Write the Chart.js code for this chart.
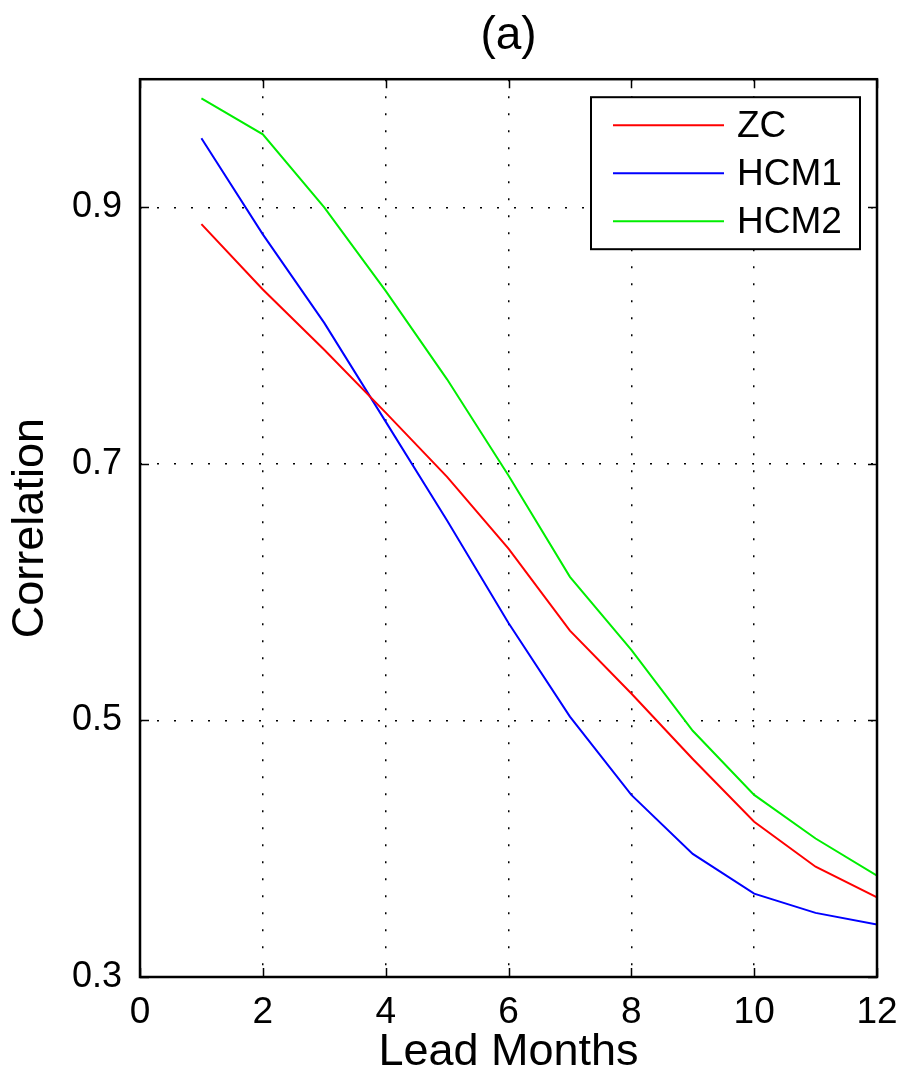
<!DOCTYPE html>
<html>
<head>
<meta charset="utf-8">
<script src="https://cdn.jsdelivr.net/npm/chart.js@4/dist/chart.umd.min.js"></script>
<style>
  html, body { margin: 0; padding: 0; background: #fff; }
  #wrap { width: 900px; height: 1080px; position: relative; }
</style>
</head>
<body>
<div id="wrap"><canvas id="chart-lead"></canvas></div>
<script>
  // data
  const leadMonths = [1, 2, 3, 4, 5, 6, 7, 8, 9, 10, 11, 12];
  const zc   = [0.887, 0.836, 0.789, 0.740, 0.690, 0.634, 0.570, 0.521, 0.470, 0.421, 0.386, 0.362];
  const hcm1 = [0.954, 0.879, 0.810, 0.733, 0.656, 0.576, 0.503, 0.442, 0.396, 0.365, 0.350, 0.341];
  const hcm2 = [0.985, 0.957, 0.900, 0.835, 0.766, 0.691, 0.612, 0.555, 0.492, 0.442, 0.408, 0.379];
  const seriesNames = ["ZC", "HCM1", "HCM2"];
  const xTicks = [0, 2, 4, 6, 8, 10, 12];
  const yTicks = [0.3, 0.5, 0.7, 0.9];

  const FONT = "'Liberation Sans', Arial, Helvetica, sans-serif";

  const toPoints = (vals) => vals.map((v, i) => ({ x: leadMonths[i], y: v }));

  function makeSet(label, vals, color) {
    return {
      label: label,
      data: toPoints(vals),
      borderColor: color,
      backgroundColor: color,
      borderWidth: 2,
      pointRadius: 0,
      tension: 0,
      fill: false,
    };
  }

  // axes box + inward tick marks (matlab style)
  const boxPlugin = {
    id: "box",
    afterDatasetsDraw(chart) {
      const { ctx, chartArea: a, scales } = chart;
      ctx.save();
      ctx.strokeStyle = "#000";
      ctx.lineWidth = 1.5;
      const len = 9;
      xTicks.forEach((t) => {
        const px = Math.round(scales.x.getPixelForValue(t)) + 0.5;
        ctx.beginPath();
        ctx.moveTo(px, a.bottom); ctx.lineTo(px, a.bottom - len);
        ctx.moveTo(px, a.top); ctx.lineTo(px, a.top + len);
        ctx.stroke();
      });
      yTicks.forEach((t) => {
        const py = Math.round(scales.y.getPixelForValue(t)) + 0.5;
        ctx.beginPath();
        ctx.moveTo(a.left, py); ctx.lineTo(a.left + len, py);
        ctx.moveTo(a.right, py); ctx.lineTo(a.right - len, py);
        ctx.stroke();
      });
      ctx.lineWidth = 2.5;
      ctx.strokeRect(a.left, a.top, a.right - a.left, a.bottom - a.top);
      ctx.restore();
    },
  };

  // boxed legend in the top-right corner
  const legendBoxPlugin = {
    id: "legendBox",
    afterDraw(chart) {
      const { ctx, chartArea: a } = chart;
      const w = 269, h = 152;
      const x0 = a.right - 17 - w, y0 = a.top + 18;
      ctx.save();
      ctx.fillStyle = "#fff";
      ctx.fillRect(x0, y0, w, h);
      ctx.strokeStyle = "#000";
      ctx.lineWidth = 2;
      ctx.strokeRect(x0, y0, w, h);
      ctx.font = "37px " + FONT;
      ctx.textBaseline = "middle";
      chart.data.datasets.forEach((ds, i) => {
        const y = y0 + 28 + i * 48;
        ctx.strokeStyle = ds.borderColor;
        ctx.lineWidth = 2;
        ctx.beginPath();
        ctx.moveTo(x0 + 22, y);
        ctx.lineTo(x0 + 133, y);
        ctx.stroke();
        ctx.fillStyle = "#000";
        ctx.fillText(ds.label, x0 + 146, y + 2);
      });
      ctx.restore();
    },
  };

  const ctx = document.getElementById("chart-lead").getContext("2d");

  new Chart(ctx, {
    type: "line",
    data: {
      datasets: [
        makeSet(seriesNames[0], zc, "#ff0000"),
        makeSet(seriesNames[1], hcm1, "#0000ff"),
        makeSet(seriesNames[2], hcm2, "#00ee00"),
      ],
    },
    options: {
      responsive: true,
      maintainAspectRatio: false,
      animation: false,
      layout: { padding: 0 },
      plugins: {
        legend: { display: false },
        tooltip: { enabled: false },
        title: {
          display: true,
          text: "(a)",
          fullSize: false,
          color: "#000",
          font: { family: FONT, size: 46, weight: "normal" },
          padding: { top: 9, bottom: 15 },
        },
      },
      scales: {
        x: {
          type: "linear",
          min: 0,
          max: 12,
          afterBuildTicks: (axis) => { axis.ticks = xTicks.map((v) => ({ value: v })); },
          afterFit: (axis) => {
            axis.height = 103;
            axis.paddingRight = 23; // fixed right margin instead of label overhang
            axis.paddingLeft = 0;
          },
          border: { display: false, dash: [2, 15] },
          grid: {
            color: "#000",
            lineWidth: 1.5,
            drawTicks: false,
          },
          ticks: {
            color: "#000",
            padding: 14,
            font: { family: FONT, size: 37 },
          },
          title: {
            display: true,
            text: "Lead Months",
            color: "#000",
            font: { family: FONT, size: 45 },
            padding: { top: 0, bottom: 0 },
          },
        },
        y: {
          type: "linear",
          min: 0.3,
          max: 1.0,
          afterBuildTicks: (axis) => { axis.ticks = yTicks.map((v) => ({ value: v })); },
          afterFit: (axis) => { axis.width = 140; },
          border: { display: false, dash: [2, 15] },
          grid: {
            color: "#000",
            lineWidth: 1.5,
            drawTicks: false,
          },
          ticks: {
            color: "#000",
            padding: 18,
            font: { family: FONT, size: 36 },
            callback: (v) => v.toFixed(1),
          },
          title: {
            display: true,
            text: "Correlation",
            color: "#000",
            font: { family: FONT, size: 45 },
            padding: { top: 4, bottom: 0 },
          },
        },
      },
    },
    plugins: [boxPlugin, legendBoxPlugin],
  });
</script>
</body>
</html>
